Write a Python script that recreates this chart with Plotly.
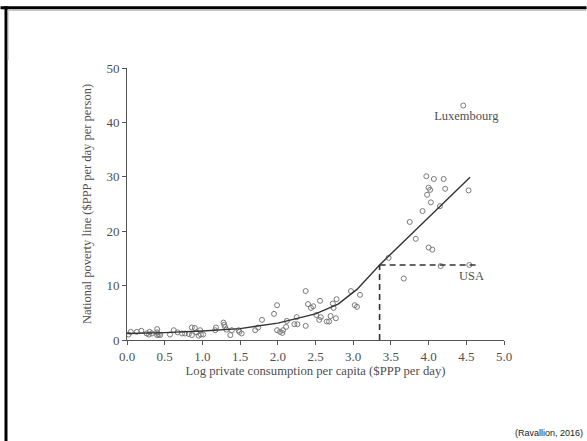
import plotly.graph_objects as go

# ---- data ----
pts_x = [0.02, 0.05, 0.13, 0.19, 0.26, 0.30, 0.29, 0.33, 0.40, 0.40, 0.40, 0.42, 0.44,
         0.57, 0.62, 0.67, 0.73, 0.77, 0.82, 0.86, 0.86, 0.90, 0.92, 0.95, 0.97, 0.98, 1.01,
         1.17, 1.18, 1.28, 1.29, 1.30, 1.32, 1.37, 1.39, 1.48, 1.49, 1.52,
         1.70, 1.74, 1.79, 1.95, 1.99, 1.99, 2.03, 2.06, 2.07, 2.11, 2.12, 2.22, 2.26, 2.25,
         2.37, 2.37, 2.40, 2.44, 2.47, 2.56, 2.51, 2.55, 2.57, 2.65, 2.68, 2.70, 2.73, 2.74,
         2.78, 2.77, 2.97, 3.02, 3.05, 3.09,
         3.47, 3.67, 3.75, 3.83, 3.92, 3.97, 3.98, 4.00, 4.02, 4.00, 4.03, 4.05, 4.07, 4.15,
         4.16, 4.20, 4.22, 4.53, 4.54, 4.46]
pts_y = [1.0, 1.5, 1.5, 1.7, 1.2, 1.5, 1.0, 1.2, 2.0, 1.4, 0.9, 1.0, 0.9,
         1.0, 1.8, 1.4, 1.2, 1.2, 1.1, 2.3, 0.9, 2.2, 1.4, 0.8, 1.8, 1.0, 1.0,
         1.8, 2.3, 3.2, 2.8, 2.4, 1.9, 0.9, 1.8, 1.8, 1.5, 1.2,
         1.8, 2.3, 3.7, 4.8, 6.4, 1.8, 1.5, 1.3, 1.8, 2.4, 3.5, 2.9, 2.9, 4.2,
         2.6, 9.0, 6.6, 5.9, 6.2, 7.2, 4.6, 3.7, 4.2, 3.4, 3.4, 4.4, 6.7, 5.9,
         7.5, 4.0, 9.0, 6.4, 6.1, 8.3,
         15.1, 11.3, 21.7, 18.6, 23.7, 30.1, 26.7, 28.0, 27.6, 17.0, 25.3, 16.6, 29.6, 24.6,
         13.6, 29.6, 27.8, 27.5, 13.8, 43.1]

fit_x = [0.0, 0.5, 1.0, 1.5, 2.0, 2.5, 2.8, 3.05, 3.35, 4.55]
fit_y = [1.2, 1.35, 1.65, 2.1, 3.1, 4.8, 6.6, 9.3, 13.8, 29.9]

usa_x = 3.35
usa_y = 13.8
usa_end_x = 4.65

labels = ["Luxembourg", "USA"]
label_x = [4.5, 4.57]
label_y = [41.0, 11.6]

x_ticks = [0.0, 0.5, 1.0, 1.5, 2.0, 2.5, 3.0, 3.5, 4.0, 4.5, 5.0]
y_ticks = [0, 10, 20, 30, 40, 50]

# ---- layout constants ----
W, H = 587, 441
L, R, T, B = 126.7, 587 - 504.3, 67.7, 441 - 340
pw, ph = W - L - R, H - T - B

def px(xp):
    return (xp - L) / pw

def py(yp):
    return (H - B - yp) / ph

serif = "Liberation Serif, DejaVu Serif, serif"
txt = "#505050"

fig = go.Figure()
fig.add_trace(go.Scatter(x=pts_x, y=pts_y, mode="markers",
                         marker=dict(symbol="circle-open", size=5, color="#7a7a7a",
                                     line=dict(width=1, color="#7a7a7a")),
                         hoverinfo="skip", showlegend=False))
fig.add_trace(go.Scatter(x=fit_x, y=fit_y, mode="lines",
                         line=dict(color="#333333", width=1.4), showlegend=False))
fig.add_trace(go.Scatter(x=[usa_x, usa_x], y=[0, usa_y], mode="lines",
                         line=dict(color="#333333", width=1.6, dash="6px,4px"), showlegend=False))
fig.add_trace(go.Scatter(x=[usa_x, usa_end_x], y=[usa_y, usa_y], mode="lines",
                         line=dict(color="#333333", width=1.6, dash="6px,4px"), showlegend=False))
fig.add_trace(go.Scatter(x=label_x, y=label_y, mode="text", text=labels,
                         textfont=dict(family=serif, size=12.5, color=txt),
                         textposition="middle center", showlegend=False))

fig.update_xaxes(range=[0, 5], tickvals=x_ticks, ticktext=[f"{v:.1f}" for v in x_ticks],
                 showline=True, linecolor="#555", linewidth=1, ticks="outside",
                 ticklen=4, tickcolor="#555", showgrid=False, zeroline=False,
                 tickfont=dict(family=serif, size=13, color=txt),
                 title=dict(text="Log private consumption per capita ($PPP per day)",
                            font=dict(family=serif, size=12.7, color=txt), standoff=2))
fig.update_yaxes(range=[0, 50], tickvals=y_ticks,
                 showline=True, linecolor="#555", linewidth=1, ticks="outside",
                 ticklen=4, tickcolor="#555", showgrid=False, zeroline=False,
                 tickfont=dict(family=serif, size=13, color=txt),
                 title=dict(text="National poverty line ($PPP per day per person)",
                            font=dict(family=serif, size=12.5, color=txt), standoff=12))

shapes = [
    dict(type="line", xref="paper", yref="paper", x0=px(0), x1=px(W), y0=py(7.5), y1=py(7.5),
         line=dict(color="black", width=3)),
    dict(type="line", xref="paper", yref="paper", x0=px(5.5), x1=px(5.5), y0=py(6), y1=py(H),
         line=dict(color="black", width=3)),
    dict(type="line", xref="paper", yref="paper", x0=px(7.5), x1=px(W), y0=py(9.8), y1=py(9.8),
         line=dict(color="#aaa", width=1)),
    dict(type="line", xref="paper", yref="paper", x0=px(7.8), x1=px(7.8), y0=py(9.5), y1=py(60),
         line=dict(color="#ccc", width=1)),
]

fig.update_layout(width=W, height=H, margin=dict(l=L, r=R, t=T, b=B),
                  plot_bgcolor="white", paper_bgcolor="white", shapes=shapes,
                  annotations=[dict(text="(Ravallion, 2016)", xref="paper", yref="paper",
                                    x=px(585), y=py(433), xanchor="right", yanchor="middle",
                                    showarrow=False,
                                    font=dict(family="Liberation Sans, Arial, sans-serif",
                                              size=9, color="#222"))])

fig.write_html("out.html", config={"displayModeBar": False},
               post_script="document.body.style.margin='0';document.body.style.overflow='hidden';")
